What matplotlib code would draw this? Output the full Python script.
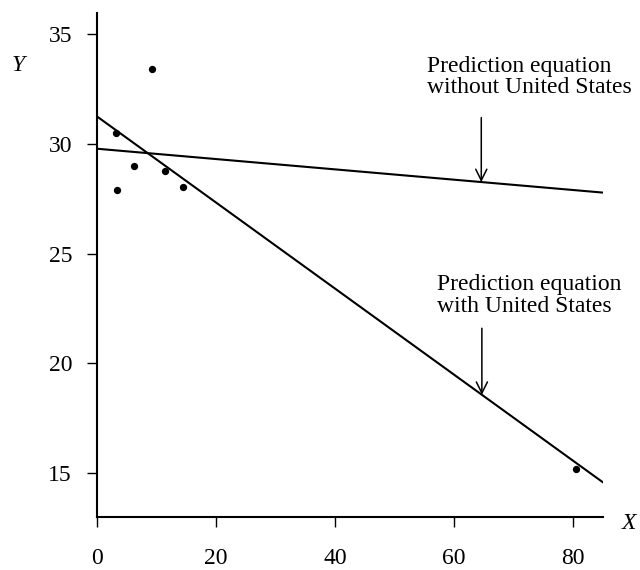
import numpy as np
import matplotlib.pyplot as plt

# pontos (x, y); o ultimo e os Estados Unidos
x_pontos = [3.2, 3.4, 6.3, 9.2, 11.4, 14.4, 80.5]
y_pontos = [30.5, 27.9, 29.0, 33.4, 28.75, 28.05, 15.2]

# retas de predicao: intercepto e inclinacao
intercepto_com = 31.25
inclinacao_com = -0.196
intercepto_sem = 29.78
inclinacao_sem = -0.0235

x_ticks = [0, 20, 40, 60, 80]
y_ticks = [15, 20, 25, 30, 35]

plt.rcParams['font.family'] = ['Liberation Serif', 'DejaVu Serif']

fig = plt.figure(figsize=(6.4, 5.7), dpi=100)
ax = fig.add_axes([0.1516, 0.0930, 0.79, 0.884])

xs = np.array([0, 85])
ax.plot(xs, intercepto_com + inclinacao_com * xs, color='black', lw=1.5)
ax.plot(xs, intercepto_sem + inclinacao_sem * xs, color='black', lw=1.5)
ax.scatter(x_pontos, y_pontos, s=18, color='black', zorder=3)

ax.set_xlim(0, 85)
ax.set_ylim(13, 35.96)
ax.set_xticks(x_ticks)
ax.set_yticks(y_ticks)
ax.tick_params(labelsize=17, width=1.0, length=7, colors='black')
ax.tick_params(axis='x', pad=15.5)
ax.tick_params(axis='y', pad=11)
for lado in ['top', 'right']:
    ax.spines[lado].set_visible(False)
for lado in ['left', 'bottom']:
    ax.spines[lado].set_linewidth(1.5)

ax.text(-13.3, 33.55, 'Y', fontsize=17, style='italic', ha='center', va='center',
        clip_on=False)
ax.text(89.5, 12.7, 'X', fontsize=17, style='italic', ha='center', va='center',
        clip_on=False)

## setas e rotulos
xa = 64.6
ax.annotate('', xy=(xa, intercepto_sem + inclinacao_sem * xa), xytext=(xa, 31.2),
            arrowprops=dict(arrowstyle='->', color='black', lw=1.1,
                            mutation_scale=20, shrinkA=0, shrinkB=0))
ax.text(55.4, 33.05, 'Prediction equation\nwithout United States', fontsize=17,
        ha='left', va='center', linespacing=1.05)

xb = 64.7
ax.annotate('', xy=(xb, intercepto_com + inclinacao_com * xb), xytext=(xb, 21.6),
            arrowprops=dict(arrowstyle='->', color='black', lw=1.1,
                            mutation_scale=20, shrinkA=0, shrinkB=0))
ax.text(57.2, 23.1, 'Prediction equation\nwith United States', fontsize=17,
        ha='left', va='center', linespacing=1.05)

fig.savefig('out.png', dpi=100)
